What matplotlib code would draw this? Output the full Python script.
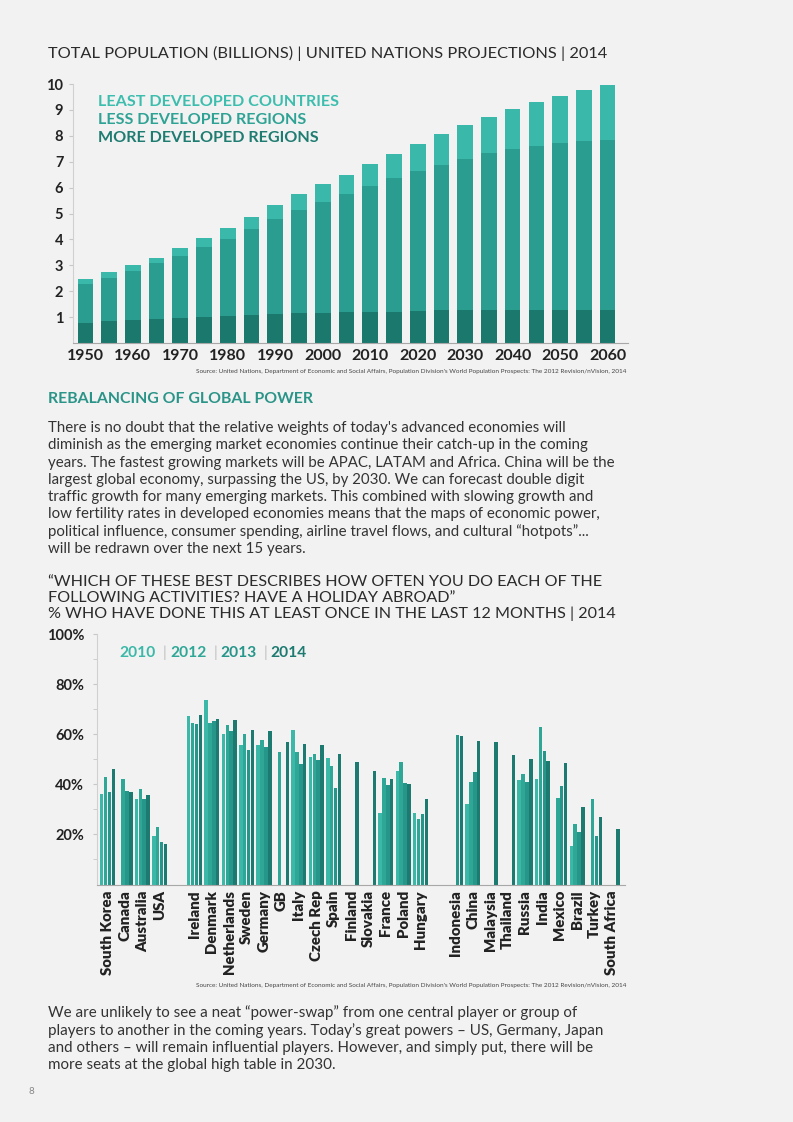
import numpy as np
import matplotlib
matplotlib.use('Agg')
import matplotlib.pyplot as plt

plt.rcParams['font.family'] = ['Lato', 'DejaVu Sans']

# --- top chart data (billions) ---
years = [1950, 1955, 1960, 1965, 1970, 1975, 1980, 1985, 1990, 1995, 2000, 2005,
         2010, 2015, 2020, 2025, 2030, 2035, 2040, 2045, 2050, 2055, 2060]
more_developed = [0.77, 0.85, 0.90, 0.94, 0.97, 1.00, 1.04, 1.10, 1.12, 1.15, 1.15, 1.20,
                  1.21, 1.21, 1.24, 1.26, 1.26, 1.26, 1.26, 1.26, 1.26, 1.26, 1.26]
less_developed = [1.50, 1.66, 1.87, 2.13, 2.39, 2.71, 2.99, 3.30, 3.66, 3.97, 4.28, 4.55,
                  4.85, 5.16, 5.40, 5.63, 5.84, 6.06, 6.22, 6.36, 6.46, 6.53, 6.59]
least_developed = [0.22, 0.23, 0.23, 0.23, 0.31, 0.34, 0.40, 0.45, 0.54, 0.62, 0.69, 0.75,
                   0.84, 0.94, 1.06, 1.19, 1.33, 1.41, 1.55, 1.67, 1.83, 1.97, 2.10]

# --- bottom chart data (% holiday abroad), '' = spacer slot ---
nan = np.nan
countries = ['South Korea', 'Canada', 'Australia', 'USA', '',
             'Ireland', 'Denmark', 'Netherlands', 'Sweden', 'Germany', 'GB', 'Italy',
             'Czech Rep', 'Spain', 'Finland', 'Slovakia', 'France', 'Poland', 'Hungary', '',
             'Indonesia', 'China', 'Malaysia', 'Thailand', 'Russia', 'India', 'Mexico',
             'Brazil', 'Turkey', 'South Africa']
y2010 = [36, nan, 34, 19.2, nan,
         67.2, 73.5, 60, 55.7, 55.7, nan, 61.7, 50.8, 50.5, nan, nan, 28.6, 45.2, 28.6, nan,
         nan, 32.2, nan, nan, 41.7, 42.2, nan, 15.5, nan, nan]
y2012 = [43, 42, 38.3, 22.9, nan,
         64.4, 64.4, 63.7, 60.1, 57.7, 52.7, 52.7, 52, 47.3, nan, nan, 42.7, 49.1, 26.2, nan,
         nan, 41, nan, nan, 44.1, 62.9, 34.6, 24.3, 34.3, nan]
y2013 = [37, 37.5, 34.3, 16.9, nan,
         64, 65.3, 61.2, 53.6, 55, nan, 48, 49.6, 38.6, nan, nan, 39.7, 40.5, 28.2, nan,
         59.7, 45.1, nan, nan, 40.9, 53.2, 39.2, 20.8, 19.4, nan]
y2014 = [46, 37, 35.8, 16.3, nan,
         67.7, 66, 65.7, 61.7, 61.3, 57, 56, 55.7, 52, 49, 45.5, 42.2, 40.2, 34.3, nan,
         59.2, 57.1, 57, 51.6, 50.1, 49.5, 48.7, 31.1, 27, 22.3]
survey_years = ['2010', '2012', '2013', '2014']

BG = '#f2f2f2'
DARK = '#2b2b2b'
W, H = 793, 1122


def fx(x):
    return x / W


def fy(y):
    return 1 - y / H


fig = plt.figure(figsize=(7.93, 11.22), dpi=100, facecolor=BG)

# ---------------- top chart ----------------
ax1 = fig.add_axes([fx(73), fy(343), (628 - 73) / W, (343 - 84) / H], facecolor=BG)
c_more, c_less, c_least = '#1a786d', '#2a9d90', '#3ab9aa'
bw = 3.3
ax1.bar(years, more_developed, width=bw, color=c_more)
ax1.bar(years, less_developed, width=bw, bottom=more_developed, color=c_less)
base2 = np.array(more_developed) + np.array(less_developed)
ax1.bar(years, least_developed, width=bw, bottom=base2, color=c_least)
ax1.set_xlim(1947.4, 2064.3)
ax1.set_ylim(0, 10)
ax1.set_yticks(range(1, 11))
ax1.set_xticks(range(1950, 2061, 10))
ax1.tick_params(axis='y', length=3, color='#c8c8c8', labelsize=10.5, labelcolor='#222222', pad=4)
ax1.tick_params(axis='x', length=0, labelsize=11.5, labelcolor='#222222', pad=4)
for lab in ax1.get_xticklabels() + ax1.get_yticklabels():
    lab.set_fontweight('bold')
for s in ['top', 'right']:
    ax1.spines[s].set_visible(False)
ax1.spines['left'].set_color('#d0d0d0')
ax1.spines['bottom'].set_color('#a8a8a8')

fig.text(fx(98), fy(102), 'LEAST DEVELOPED COUNTRIES', color='#3dbdae', fontsize=11.6,
         fontweight='bold', va='center')
fig.text(fx(98), fy(120), 'LESS DEVELOPED REGIONS', color='#2ea294', fontsize=11.6,
         fontweight='bold', va='center')
fig.text(fx(98), fy(138), 'MORE DEVELOPED REGIONS', color='#1f7c71', fontsize=11.6,
         fontweight='bold', va='center')

fig.text(fx(48), fy(53), 'TOTAL POPULATION (BILLIONS) | UNITED NATIONS PROJECTIONS | 2014',
         color=DARK, fontsize=11.8, va='center')

src = ("Source: United Nations, Department of Economic and Social Affairs, Population Division's "
       "World Population Prospects: The 2012 Revision/nVision, 2014")
fig.text(fx(626), fy(371), src, color='#444444', fontsize=4.6, ha='right', va='center')

# ---------------- text block ----------------
fig.text(fx(48), fy(399), 'REBALANCING OF GLOBAL POWER', color='#2a9488', fontsize=11.4,
         fontweight='bold', va='center')
para = ["There is no doubt that the relative weights of today's advanced economies will",
        "diminish as the emerging market economies continue their catch-up in the coming",
        "years. The fastest growing markets will be APAC, LATAM and Africa. China will be the",
        "largest global economy, surpassing the US, by 2030. We can forecast double digit",
        "traffic growth for many emerging markets. This combined with slowing growth and",
        "low fertility rates in developed economies means that the maps of economic power,",
        "political influence, consumer spending, airline travel flows, and cultural \u201chotpots\u201d...",
        "will be redrawn over the next 15 years."]
for i, line in enumerate(para):
    fig.text(fx(48), fy(428 + i * 17.3), line, color='#333333', fontsize=10.85, va='center')

for i, line in enumerate(['\u201cWHICH OF THESE BEST DESCRIBES HOW OFTEN YOU DO EACH OF THE',
                          'FOLLOWING ACTIVITIES? HAVE A HOLIDAY ABROAD\u201d',
                          '% WHO HAVE DONE THIS AT LEAST ONCE IN THE LAST 12 MONTHS | 2014']):
    fig.text(fx(48), fy(582 + i * 16), line, color=DARK, fontsize=11.6, va='center')

# ---------------- bottom chart ----------------
ax2 = fig.add_axes([fx(96.7), fy(884.5), (625 - 96.7) / W, (884.5 - 634) / H], facecolor=BG)
year_colors = ['#3bb8a8', '#2fa797', '#26958a', '#1d7a70']
series = [y2010, y2012, y2013, y2014]
slots = np.arange(len(countries))
step = 0.225
for k, vals in enumerate(series):
    ax2.bar(slots + (k - 1.5) * step, vals, width=step * 0.9, color=year_colors[k])
ax2.set_xlim(-0.62, 29.75)
ax2.set_ylim(0, 100)
ax2.set_yticks([20, 40, 60, 80, 100])
ax2.set_yticklabels(['20%', '40%', '60%', '80%', '100%'])
ax2.set_yticks(range(10, 100, 10), minor=True)
ax2.tick_params(axis='y', which='both', length=3, color='#c8c8c8', labelsize=10.5,
                labelcolor='#222222', pad=6)
ax2.set_xticks(slots)
ax2.set_xticklabels(countries, rotation=90, fontsize=10.8, fontweight='heavy', color='#222222')
ax2.tick_params(axis='x', length=0, pad=4)
for lab in ax2.get_yticklabels():
    lab.set_fontweight('bold')
for s in ['top', 'right']:
    ax2.spines[s].set_visible(False)
ax2.spines['left'].set_color('#d0d0d0')
ax2.spines['bottom'].set_color('#a8a8a8')

leg_x = [119, 170, 220, 270]
for k, yr in enumerate(survey_years):
    fig.text(fx(leg_x[k]), fy(653), yr, color=year_colors[k], fontsize=11.2,
             fontweight='bold', va='center')
    if k < 3:
        fig.text(fx(leg_x[k] + 44), fy(653), '|', color='#bdbdbd', fontsize=11, va='center')

fig.text(fx(626), fy(985), src, color='#444444', fontsize=4.6, ha='right', va='center')

para2 = ["We are unlikely to see a neat \u201cpower-swap\u201d from one central player or group of",
         "players to another in the coming years. Today\u2019s great powers \u2013 US, Germany, Japan",
         "and others \u2013 will remain influential players. However, and simply put, there will be",
         "more seats at the global high table in 2030."]
for i, line in enumerate(para2):
    fig.text(fx(48), fy(1013 + i * 17.5), line, color='#333333', fontsize=10.9, va='center')

fig.text(fx(28), fy(1092), '8', color='#888888', fontsize=7, va='center')

fig.savefig('out.png', dpi=100, facecolor=BG)
